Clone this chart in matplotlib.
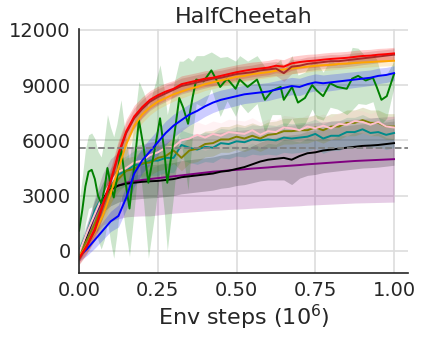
import numpy as np
import matplotlib
matplotlib.use("Agg")
import matplotlib.pyplot as plt

# Env steps (in 1e6), common grid for the smooth curves
steps = np.linspace(0.0, 1.0, 41)

red = [-400, 300, 1200, 2500, 3800, 5300, 6500, 7300, 7800, 8200, 8450, 8650, 8800, 9050, 9150,
       9250, 9350, 9400, 9500, 9600, 9700, 9780, 9850, 9900, 9950, 10050, 10000, 10180, 10250,
       10300, 10330, 10380, 10420, 10450, 10480, 10530, 10580, 10600, 10650, 10680, 10720]
red_sd = [300, 400, 500, 600, 700, 700, 650, 600, 550, 500, 480, 460, 450, 450, 440, 430, 430,
          420, 420, 410, 400, 400, 400, 390, 390, 380, 380, 380, 370, 370, 360, 360, 360, 350,
          350, 350, 340, 340, 340, 330, 330]

brown = [-450, 250, 1100, 2400, 3700, 5200, 6400, 7200, 7700, 8100, 8350, 8550, 8750, 8950, 9050,
         9150, 9250, 9350, 9400, 9500, 9600, 9650, 9700, 9800, 9850, 9900, 9650, 10000, 10050,
         10150, 10200, 10250, 10300, 10300, 10350, 10400, 10450, 10500, 10550, 10600, 10650]
brown_sd = [300, 400, 500, 600, 650, 650, 600, 550, 500, 480, 450, 450, 430, 430, 420, 420, 410,
            410, 400, 400, 400, 390, 390, 380, 380, 380, 450, 380, 370, 370, 360, 360, 360, 350,
            350, 350, 340, 340, 340, 330, 330]

orange = [-300, 300, 1000, 1900, 3100, 4500, 5800, 6800, 7400, 7800, 8100, 8300, 8500, 8650, 8800,
          8900, 9050, 9150, 9250, 9350, 9450, 9500, 9600, 9650, 9700, 9780, 9850, 9900, 9950,
          10000, 10050, 10080, 10100, 10150, 10170, 10200, 10230, 10250, 10280, 10300, 10320]
orange_sd = [250, 350, 450, 550, 600, 600, 550, 500, 450, 420, 400, 380, 370, 360, 350, 350, 340,
             340, 330, 330, 320, 320, 310, 310, 300, 300, 300, 290, 290, 290, 280, 280, 280, 280,
             270, 270, 270, 260, 260, 260, 260]

blue = [-300, 100, 600, 1100, 1600, 1900, 2900, 4200, 4900, 5400, 5900, 6400, 6800, 7100, 7400,
        7600, 7850, 8050, 8200, 8300, 8400, 8500, 8550, 8600, 8650, 8750, 8850, 8950, 8900, 9050,
        9150, 9100, 9150, 9200, 9250, 9300, 9350, 9400, 9500, 9550, 9650]
blue_sd = [250, 350, 450, 500, 550, 600, 650, 700, 700, 700, 680, 650, 620, 600, 580, 560, 550,
           540, 530, 520, 510, 500, 500, 490, 490, 480, 480, 470, 470, 460, 460, 450, 450, 440,
           440, 430, 430, 420, 420, 410, 400]

pink = [-100, 1000, 2000, 3000, 3700, 4300, 4500, 4800, 4900, 5200, 5350, 5600, 5650, 6000, 6100,
        6300, 6150, 6350, 6250, 6450, 6400, 6350, 6550, 6300, 6500, 6450, 6700, 6650, 6550, 6750,
        6650, 6800, 6650, 6900, 6850, 7050, 7000, 6850, 7000, 6750, 6700]
pink_sd = [300, 500, 600, 700, 700, 700, 700, 700, 700, 700, 700, 700, 700, 700, 700, 700, 700,
           700, 700, 700, 700, 700, 680, 680, 660, 660, 650, 650, 640, 640, 630, 630, 620, 620,
           610, 610, 600, 600, 600, 600, 600]

olive = [-200, 600, 1500, 2500, 3300, 3900, 4350, 4450, 4750, 4800, 5050, 5150, 5450, 5050, 5450,
         5550, 5800, 5850, 6050, 6050, 6200, 6100, 6250, 6100, 6300, 6350, 6500, 6500, 6550, 6550,
         6700, 6550, 6750, 6750, 6950, 6950, 7100, 6950, 6950, 6750, 6750]
olive_sd = [300, 500, 600, 700, 700, 700, 700, 700, 700, 700, 700, 700, 700, 700, 700, 700, 700,
            700, 700, 700, 700, 700, 700, 700, 700, 700, 700, 700, 700, 700, 700, 700, 700, 700,
            700, 700, 700, 700, 700, 700, 700]

teal = [0, 1000, 2200, 3000, 3700, 4150, 4350, 4650, 4700, 4900, 4900, 5050, 5050, 5750, 5600,
        5500, 5650, 5600, 5850, 5800, 5950, 5900, 6050, 6000, 6050, 6000, 6150, 6100, 6150, 6200,
        6350, 6100, 6250, 6250, 6450, 6450, 6600, 6400, 6450, 6300, 6400]
teal_sd = [300, 500, 600, 700, 800, 800, 800, 800, 800, 800, 800, 800, 800, 800, 800, 800, 800,
           800, 800, 800, 800, 800, 800, 800, 800, 800, 800, 800, 800, 800, 800, 800, 800, 800,
           800, 800, 800, 800, 800, 800, 800]

black = [-300, 900, 2000, 2900, 3350, 3550, 3650, 3700, 3750, 3780, 3800, 3850, 3900, 4000, 4050,
         4100, 4150, 4200, 4300, 4350, 4450, 4550, 4700, 4850, 4950, 5000, 5050, 4950, 5150, 5300,
         5350, 5450, 5500, 5550, 5600, 5650, 5700, 5720, 5750, 5800, 5850]
black_sd = [300, 500, 700, 800, 900, 900, 900, 900, 900, 900, 900, 900, 900, 900, 900, 900, 900,
            900, 900, 900, 900, 950, 1000, 1050, 1100, 1150, 1200, 1350, 1200, 1200, 1200, 1200,
            1200, 1200, 1200, 1200, 1200, 1200, 1200, 1200, 1200]

purple = [-300, 800, 1900, 2800, 3300, 3550, 3700, 3780, 3850, 3900, 3950, 4000, 4050, 4100, 4150,
          4200, 4250, 4300, 4330, 4370, 4400, 4430, 4470, 4500, 4530, 4570, 4600, 4630, 4660, 4700,
          4730, 4760, 4790, 4820, 4850, 4880, 4900, 4920, 4940, 4960, 4980]
purple_sd = [300, 600, 1000, 1400, 1700, 1800, 1850, 1900, 1950, 2000, 2000, 2000, 2000, 2020,
             2040, 2060, 2080, 2100, 2110, 2120, 2130, 2140, 2150, 2160, 2170, 2180, 2190, 2200,
             2210, 2220, 2230, 2240, 2250, 2260, 2270, 2280, 2290, 2300, 2310, 2320, 2330]

# green is very noisy, so it gets its own points
green_x = [0.0, 0.01, 0.02, 0.03, 0.04, 0.05, 0.06, 0.07, 0.08, 0.09, 0.1, 0.11, 0.12, 0.133,
           0.145, 0.16, 0.175, 0.19, 0.205, 0.22, 0.24, 0.257, 0.27, 0.28, 0.3, 0.318, 0.33,
           0.346, 0.36, 0.372, 0.395, 0.42, 0.448, 0.47, 0.497, 0.51, 0.535, 0.565, 0.59, 0.613,
           0.64, 0.65, 0.676, 0.695, 0.717, 0.74, 0.755, 0.775, 0.797, 0.82, 0.85, 0.867, 0.886,
           0.91, 0.933, 0.945, 0.96, 0.977, 1.0]
green = [1100, 2200, 3500, 4300, 4400, 3900, 3000, 2600, 3300, 4500, 3600, 2900, 3900, 5600,
         4000, 2300, 4600, 7100, 5600, 3700, 5500, 7200, 5500, 3700, 6000, 8300, 7800,
         6900, 8300, 9300, 9200, 9800, 8900, 9350, 8800, 9300, 8900, 9300, 8200, 8700,
         8900, 8200, 8900, 8050, 8300, 9000, 8700, 8400, 9100, 8900, 8800, 9350, 9500,
         9250, 9400, 8900, 8200, 8400, 9600]
green_sd = [1500, 1800, 2000, 2000, 2000, 2200, 2400, 2500, 2700, 2900, 3100, 3300, 3000, 2600,
            2600, 2600, 2400, 2100, 3000, 4100, 3500, 2900, 3300, 3700, 3000, 2000, 2500,
            3600, 2000, 1300, 1400, 1000, 1600, 1200, 1500, 1300, 1400, 1300, 1800, 1300,
            1500, 1600, 1700, 1500, 1400, 1300, 1500, 1300, 1300, 1200, 1400, 1700, 1500,
            1300, 1300, 1500, 1300, 1200, 700]

baseline = 5600

curves = [
    (steps, purple, purple_sd, "purple"),
    (steps, black, black_sd, "black"),
    (steps, teal, teal_sd, "darkcyan"),
    (steps, olive, olive_sd, "olive"),
    (steps, pink, pink_sd, "pink"),
    (green_x, green, green_sd, "green"),
    (steps, blue, blue_sd, "blue"),
    (steps, orange, orange_sd, "orange"),
    (steps, brown, brown_sd, "brown"),
    (steps, red, red_sd, "red"),
]

text_col = "#262626"
plt.rcParams["font.family"] = "DejaVu Sans"

fig = plt.figure(figsize=(4.23, 3.4), dpi=100)
ax = fig.add_axes([0.187, 0.197, 0.778, 0.718])

for x, m, sd, c in curves:
    m = np.array(m, dtype=float)
    sd = np.array(sd, dtype=float)
    ax.fill_between(x, m - sd, m + sd, color=c, alpha=0.2, linewidth=0)
for x, m, sd, c in curves:
    ax.plot(x, m, color=c, linewidth=1.4)

ax.axhline(baseline, color="gray", linestyle="--", linewidth=1.3)

ax.set_xlim(0, 1.045)
ax.set_ylim(-1200, 12050)
ax.set_xticks([0.0, 0.25, 0.5, 0.75, 1.0])
ax.set_xticklabels(["0.00", "0.25", "0.50", "0.75", "1.00"])
ax.set_yticks([0, 3000, 6000, 9000, 12000])

ax.grid(True, color="#dddddd", linewidth=1.2)
ax.set_axisbelow(True)
ax.spines[["top", "right"]].set_visible(False)
for s in ["left", "bottom"]:
    ax.spines[s].set_color(text_col)
    ax.spines[s].set_linewidth(1.2)
ax.tick_params(axis="both", length=0, pad=6, labelsize=14, labelcolor=text_col)

ax.set_title("HalfCheetah", fontsize=16, color=text_col, pad=4)
ax.set_xlabel("Env steps ($10^6$)", fontsize=16, color=text_col, labelpad=2)

fig.savefig("out.png", dpi=100)
